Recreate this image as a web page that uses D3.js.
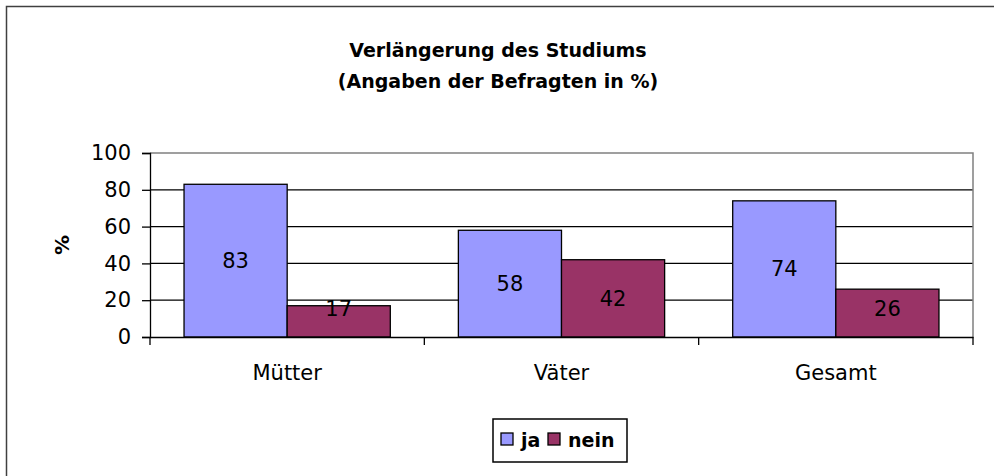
<!DOCTYPE html>
<html>
<head>
<meta charset="utf-8">
<script src="https://cdn.jsdelivr.net/npm/d3@7"></script>
<style>
  body { margin: 0; background: #fff; }
  svg { display: block; font-family: "DejaVu Sans", sans-serif; }
</style>
</head>
<body>
<svg id="chart" width="994" height="476"></svg>
<script>
const categories = ['Mütter', 'Väter', 'Gesamt']
const seriesNames = ['ja', 'nein']
const ja = [83, 58, 74]
const nein = [17, 42, 26]
const yTicks = [0, 20, 40, 60, 80, 100]
const colors = ['#9999FF', '#993366']

const font = '"DejaVu Sans", sans-serif'
const svg = d3.select('#chart')
const plot = { left: 150, right: 973, top: 153, bottom: 337 }

// outer frame (only left and top are visible in the picture)
svg.append('rect')
  .attr('x', 6.5).attr('y', 6.5)
  .attr('width', 1100).attr('height', 600)
  .attr('fill', 'none').attr('stroke', '#404040').attr('stroke-width', 1.5)

const title = svg.append('text')
  .attr('text-anchor', 'middle')
  .attr('font-weight', 'bold')
  .attr('font-size', 19)
title.append('tspan').attr('x', 498).attr('y', 57).text('Verlängerung des Studiums')
title.append('tspan').attr('x', 498).attr('y', 88).text('(Angaben der Befragten in %)')

const y = d3.scaleLinear().domain([0, 100]).range([plot.bottom, plot.top])
const x = d3.scaleBand().domain(categories).range([plot.left, plot.right])
const inner = d3.scaleBand().domain(seriesNames)
  .range([0, x.bandwidth()]).paddingOuter(0.33)

// gridlines
svg.append('g')
  .selectAll('line')
  .data(yTicks.filter(d => d > 0 && d < 100))
  .join('line')
  .attr('x1', plot.left).attr('x2', plot.right)
  .attr('y1', d => y(d)).attr('y2', d => y(d))
  .attr('stroke', '#000').attr('stroke-width', 1.3)

// top and right border of plot area
svg.append('path')
  .attr('d', `M${plot.left},${plot.top}H${plot.right}V${plot.bottom}`)
  .attr('fill', 'none').attr('stroke', '#808080').attr('stroke-width', 1.5)

const data = [ja, nein]
const groups = svg.append('g')
  .selectAll('g')
  .data(seriesNames)
  .join('g')

groups.selectAll('rect')
  .data((s, si) => data[si].map((v, i) => ({ s, si, v, c: categories[i] })))
  .join('rect')
  .attr('x', d => x(d.c) + inner(d.s))
  .attr('y', d => y(d.v))
  .attr('width', inner.bandwidth())
  .attr('height', d => plot.bottom - y(d.v))
  .attr('fill', d => colors[d.si])
  .attr('stroke', '#000').attr('stroke-width', 1.3)

groups.selectAll('text')
  .data((s, si) => data[si].map((v, i) => ({ s, si, v, c: categories[i] })))
  .join('text')
  .attr('x', d => x(d.c) + inner(d.s) + inner.bandwidth() / 2)
  .attr('y', d => Math.min((y(d.v) + plot.bottom) / 2, plot.bottom - 29))
  .attr('dy', '0.36em')
  .attr('text-anchor', 'middle')
  .attr('font-size', 21)
  .text(d => d.v)

// y axis
const yAxis = svg.append('g')
  .attr('transform', `translate(${plot.left},0)`)
  .call(d3.axisLeft(y).tickValues(yTicks).tickSize(8).tickPadding(11))
yAxis.select('.domain').attr('stroke', '#000').attr('stroke-width', 1.3)
yAxis.selectAll('.tick line').attr('stroke', '#000').attr('stroke-width', 1.3)
yAxis.selectAll('.tick text').attr('font-size', 21).attr('fill', '#000')
  .attr('font-family', font)

// x axis
const xAxis = svg.append('g')
  .attr('transform', `translate(0,${plot.bottom})`)
  .call(d3.axisBottom(x).tickSize(0).tickPadding(28))
xAxis.select('.domain').attr('stroke', '#000').attr('stroke-width', 1.3)
xAxis.selectAll('.tick text').attr('font-size', 21).attr('fill', '#000')
  .attr('font-family', font)
xAxis.selectAll('line.sep')
  .data(categories.concat(['end']))
  .join('line')
  .attr('class', 'sep')
  .attr('x1', (d, i) => plot.left + i * x.bandwidth())
  .attr('x2', (d, i) => plot.left + i * x.bandwidth())
  .attr('y1', 0).attr('y2', 8)
  .attr('stroke', '#000').attr('stroke-width', 1.3)

svg.append('text')
  .attr('transform', 'translate(69,245) rotate(-90)')
  .attr('text-anchor', 'middle')
  .attr('font-weight', 'bold')
  .attr('font-size', 20)
  .text('%')

// legend
const legend = svg.append('g').attr('transform', 'translate(493,419)')
legend.append('rect')
  .attr('width', 134).attr('height', 43)
  .attr('fill', '#fff').attr('stroke', '#000').attr('stroke-width', 1.5)
const legendX = [8, 55]
const item = legend.selectAll('g')
  .data(seriesNames)
  .join('g')
  .attr('transform', (d, i) => `translate(${legendX[i]},0)`)
item.append('rect')
  .attr('y', 14).attr('width', 12).attr('height', 12)
  .attr('fill', (d, i) => colors[i])
  .attr('stroke', '#000').attr('stroke-width', 1.3)
item.append('text')
  .attr('x', 20).attr('y', 28)
  .attr('font-weight', 'bold').attr('font-size', 19)
  .text(d => d)
</script>
</body>
</html>
